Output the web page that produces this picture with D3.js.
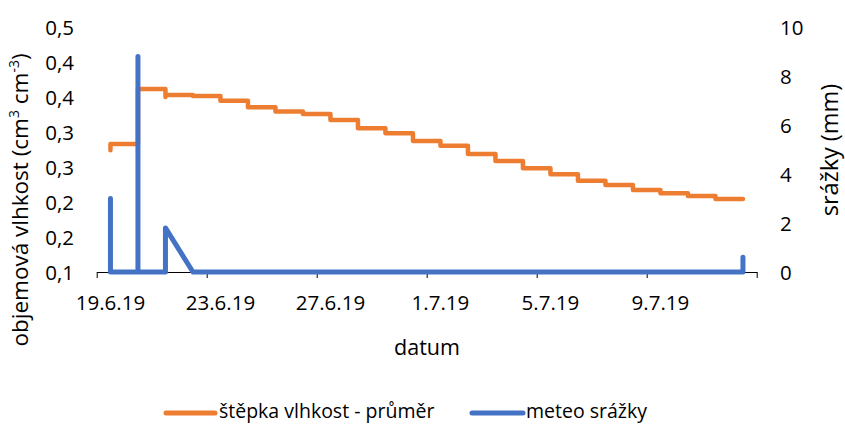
<!DOCTYPE html>
<html>
<head>
<meta charset="utf-8">
<script src="https://cdn.jsdelivr.net/npm/d3@7/dist/d3.min.js"></script>
<style>
  html, body { margin: 0; padding: 0; background: #fff; }
  svg { display: block; }
  text { font-family: "Open Sans", "Noto Sans", sans-serif; fill: #000; }
</style>
</head>
<body>
<svg id="chart" width="845" height="424"></svg>
<script>
// ---- data ----
const days = ["2019-06-19","2019-06-20","2019-06-21","2019-06-22","2019-06-23","2019-06-24",
  "2019-06-25","2019-06-26","2019-06-27","2019-06-28","2019-06-29","2019-06-30",
  "2019-07-01","2019-07-02","2019-07-03","2019-07-04","2019-07-05","2019-07-06",
  "2019-07-07","2019-07-08","2019-07-09","2019-07-10","2019-07-11","2019-07-12"];
// moisture readings per day (first ... last)
const moisture = [
  [0.274, 0.283], [0.283, 0.3614], [0.3614, 0.350, 0.353], [0.353, 0.3514],
  [0.3514, 0.3447], [0.3447, 0.3353], [0.3353, 0.3293], [0.3293, 0.3257],
  [0.3257, 0.3171], [0.3171, 0.3053], [0.3053, 0.2981], [0.2981, 0.2871],
  [0.2871, 0.2804], [0.2804, 0.2686], [0.2686, 0.2586], [0.2586, 0.2481],
  [0.2481, 0.2396], [0.2396, 0.2304], [0.2304, 0.2243], [0.2243, 0.2171],
  [0.2171, 0.2124], [0.2124, 0.2086], [0.2086, 0.2043], [0.2043, 0.2043]
];
// precipitation readings per day (mm)
const rain = [
  [0, 3.0, 0], [0, 8.8, 0], [0, 1.8], [0], [0], [0], [0], [0], [0], [0], [0], [0],
  [0], [0], [0], [0], [0], [0], [0], [0], [0], [0], [0], [0, 0.6]
];
const xTickDates = ["2019-06-19","2019-06-23","2019-06-27","2019-07-01","2019-07-05","2019-07-09","2019-07-13"];
const xTickLabels = ["19.6.19","23.6.19","27.6.19","1.7.19","5.7.19","9.7.19"];
const leftTicks = [0.1, 0.15, 0.2, 0.25, 0.3, 0.35, 0.4, 0.45];
const leftTickLabels = ["0,1","0,2","0,2","0,3","0,3","0,4","0,4","0,5"];
const rightTicks = [0, 2, 4, 6, 8, 10];
const seriesNames = ["štěpka vlhkost - průměr", "meteo srážky"];
const colors = ["#ED7D31", "#4472C4"];

// ---- layout ----
const svg = d3.select("#chart");
const plotL = 96.7, plotR = 756.7, plotT = 27, plotB = 272;
const parse = d3.utcParse("%Y-%m-%d");
const x = d3.scaleUtc().domain([parse("2019-06-19"), parse("2019-07-13")]).range([plotL, plotR]);
const yL = d3.scaleLinear().domain([0.1, 0.45]).range([plotB, plotT]);
const yR = d3.scaleLinear().domain([0, 10]).range([plotB, plotT]);
const mid = s => d3.utcHour.offset(parse(s), 12);

// flatten per-day readings to points at the day's centre
const mPts = [], rPts = [];
days.forEach((d, i) => {
  moisture[i].forEach(v => mPts.push([mid(d), v]));
  rain[i].forEach(v => rPts.push([mid(d), v]));
});

// x axis
const xAxis = d3.axisBottom(x)
  .tickValues(xTickDates.map(parse))
  .tickSize(6).tickSizeOuter(0).tickFormat("");
const gx = svg.append("g").attr("transform", `translate(0,${plotB})`).call(xAxis);
gx.select(".domain").attr("stroke", "#000").attr("stroke-width", 1);
gx.selectAll(".tick line").attr("stroke", "#000");

// x labels at centre of first day of each tick interval
svg.append("g").selectAll("text").data(xTickLabels).join("text")
  .attr("x", (d, i) => x(mid(xTickDates[i])))
  .attr("y", 310)
  .attr("text-anchor", "middle")
  .style("font-size", "20.5px")
  .text(d => d);

// left labels
svg.append("g").selectAll("text").data(leftTicks).join("text")
  .attr("x", 74).attr("y", d => yL(d) + 7.5)
  .attr("text-anchor", "end")
  .style("font-size", "20.5px")
  .text((d, i) => leftTickLabels[i]);

// right labels
svg.append("g").selectAll("text").data(rightTicks).join("text")
  .attr("x", 780).attr("y", d => yR(d) + 7.5)
  .attr("text-anchor", "start")
  .style("font-size", "20.5px")
  .text(d => d);

// lines
const lineM = d3.line().x(d => x(d[0])).y(d => yL(d[1]));
const lineR = d3.line().x(d => x(d[0])).y(d => yR(d[1]));
svg.append("path").datum(mPts).attr("d", lineM)
  .attr("fill", "none").attr("stroke", colors[0]).attr("stroke-width", 4.5)
  .attr("stroke-linejoin", "round").attr("stroke-linecap", "round");
svg.append("path").datum(rPts).attr("d", lineR)
  .attr("fill", "none").attr("stroke", colors[1]).attr("stroke-width", 5)
  .attr("stroke-linejoin", "round").attr("stroke-linecap", "round");

// axis titles
const lt = svg.append("text")
  .attr("transform", "translate(28,200) rotate(-90)")
  .attr("text-anchor", "middle")
  .style("font-size", "22.5px");
lt.append("tspan").text("objemová vlhkost (cm");
lt.append("tspan").attr("baseline-shift", "super").style("font-size", "14px").text("3");
lt.append("tspan").text(" cm");
lt.append("tspan").attr("baseline-shift", "super").style("font-size", "14px").text("-3");
lt.append("tspan").text(")");

svg.append("text")
  .attr("transform", "translate(838,150) rotate(-90)")
  .attr("text-anchor", "middle")
  .style("font-size", "23.5px")
  .text("srážky (mm)");

svg.append("text")
  .attr("x", 427).attr("y", 355)
  .attr("text-anchor", "middle")
  .style("font-size", "21.5px")
  .text("datum");

// legend
const legendItems = [
  { x1: 166, x2: 215, tx: 219 },
  { x1: 472, x2: 523, tx: 526 }
];
const lg = svg.append("g");
seriesNames.forEach((name, i) => {
  lg.append("line")
    .attr("x1", legendItems[i].x1).attr("x2", legendItems[i].x2)
    .attr("y1", 413).attr("y2", 413)
    .attr("stroke", colors[i]).attr("stroke-width", 5).attr("stroke-linecap", "round");
  lg.append("text")
    .attr("x", legendItems[i].tx).attr("y", 418)
    .style("font-size", "19.5px")
    .text(name);
});
</script>
</body>
</html>
